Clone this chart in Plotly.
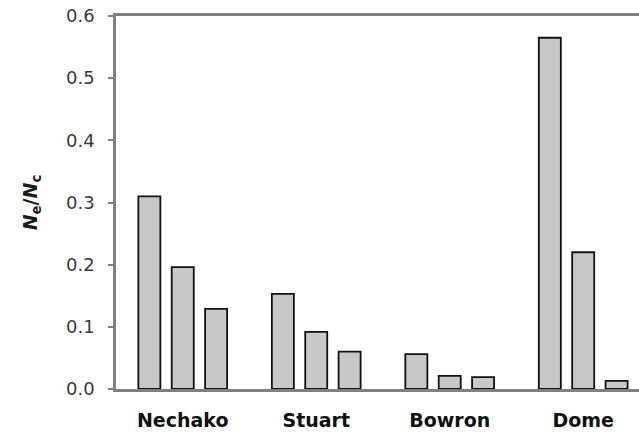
import plotly.graph_objects as go

# Ne/Nc ratios, three bars per river population
rivers = ['Nechako', 'Stuart', 'Bowron', 'Dome']
ratio_1 = [0.310, 0.153, 0.056, 0.565]
ratio_2 = [0.196, 0.092, 0.021, 0.220]
ratio_3 = [0.129, 0.060, 0.019, 0.013]
y_ticks = [0.0, 0.1, 0.2, 0.3, 0.4, 0.5, 0.6]

fig = go.Figure()
for vals in (ratio_1, ratio_2, ratio_3):
    fig.add_trace(go.Bar(
        x=list(range(len(rivers))), y=vals,
        marker={'color': '#c8c8c8', 'line': {'color': '#111111', 'width': 1.8}},
        showlegend=False,
    ))

fig.update_layout(
    width=639, height=438,
    margin={'l': 116, 'r': 0, 't': 16, 'b': 49},
    paper_bgcolor='white', plot_bgcolor='white',
    barmode='group', bargap=0.25, bargroupgap=0.34,
    font={'family': 'DejaVu Sans, sans-serif'},
)
fig.update_xaxes(
    range=[-0.5, 3.418],
    tickmode='array', tickvals=list(range(len(rivers))), ticktext=rivers,
    tickfont={'size': 19, 'color': '#111111', 'weight': 'bold'},
    ticklabelstandoff=12,
    showline=True, linecolor='#808080', linewidth=2.5, mirror=True,
    ticks='', showgrid=False, zeroline=False,
)
fig.update_yaxes(
    range=[0, 0.6],
    tickmode='array', tickvals=y_ticks,
    ticktext=[f'{v:.1f}' for v in y_ticks],
    tickfont={'size': 18, 'color': '#3a3a3a'},
    ticks='outside', ticklen=5, tickwidth=2, tickcolor='#808080',
    ticklabelstandoff=10,
    showline=True, linecolor='#808080', linewidth=2.5,
    showgrid=False, zeroline=False,
    title={'text': '<i>N</i><sub>e</sub>/<i>N</i><sub>c</sub>',
           'font': {'size': 19, 'color': '#1a1a1a', 'weight': 'bold'},
           'standoff': 24},
)

fig.write_html('out.html', config={'displayModeBar': False},
               post_script="document.body.style.margin='0';")
